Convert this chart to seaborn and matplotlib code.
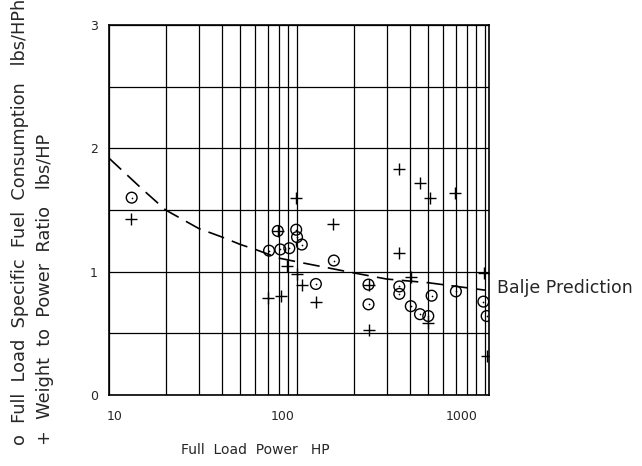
import matplotlib
matplotlib.use("Agg")
import matplotlib.pyplot as plt
import matplotlib.transforms as mtransforms
import seaborn as sns
import pandas as pd
import numpy as np
from matplotlib.ticker import LogLocator, FixedLocator, NullFormatter, MultipleLocator

# Full load specific fuel consumption (circles)
circle_x = [13.2, 79, 99, 100, 106, 71, 81.5, 91, 157, 126, 240, 240, 350, 350, 403, 520, 451, 499, 700, 980, 1020]
circle_y = [1.60, 1.33, 1.34, 1.28, 1.22, 1.17, 1.18, 1.19, 1.09, 0.90, 0.895, 0.735, 0.88, 0.82, 0.72, 0.805, 0.655, 0.64, 0.84, 0.757, 0.64]

# Weight to power ratio (plus)
plus_x = [13.1, 79, 99, 156, 350, 451, 509, 692, 350, 88.7, 99.5, 106, 70.3, 82.2, 126, 240, 404, 990, 240, 495, 1028]
plus_y = [1.425, 1.33, 1.60, 1.39, 1.83, 1.72, 1.595, 1.635, 1.155, 1.046, 0.98, 0.89, 0.785, 0.805, 0.757, 0.895, 0.96, 0.99, 0.527, 0.586, 0.316]

# Balje prediction curve
curve_x = [10, 15, 20, 30, 40, 50, 60, 80, 100, 200, 300, 500, 1000]
curve_y = [1.92, 1.67, 1.50, 1.35, 1.28, 1.22, 1.18, 1.11, 1.08, 0.99, 0.94, 0.91, 0.85]

x_ticks = [10, 100, 1000]
x_tick_labels = ["10", "100", "1000"]
y_ticks = [0, 1, 2, 3]
y_tick_labels = ["0", "1", "2", "3"]

sns.set_style("white")
plt.rcParams["font.family"] = ["DejaVu Sans"]

fig = plt.figure(figsize=(6.42, 4.66), dpi=100)
ax = fig.add_axes([0.1698, 0.1524, 0.5919, 0.794])

circ = pd.DataFrame({"x": circle_x, "y": circle_y})
plus = pd.DataFrame({"x": plus_x, "y": plus_y})
curve = pd.DataFrame({"x": curve_x, "y": curve_y})

ax.set_xscale("log")
ax.set_xlim(10, 1050)
ax.set_ylim(0, 3)

sns.lineplot(data=curve, x="x", y="y", ax=ax, color="black", lw=1.2, zorder=3)
ax.lines[0].set_dashes([10, 5])
sns.scatterplot(data=circ, x="x", y="y", ax=ax, marker="o", s=60,
                facecolors="none", edgecolor="black", linewidth=1.0, zorder=4)
sns.scatterplot(data=circ, x="x", y="y", ax=ax, marker=".", s=6,
                color="black", linewidth=0, zorder=5)
sns.scatterplot(data=plus, x="x", y="y", ax=ax, marker="+", s=80,
                color="black", linewidth=1.0, zorder=4)

# grid
ax.xaxis.set_major_locator(FixedLocator(x_ticks))
ax.xaxis.set_minor_locator(LogLocator(base=10, subs=np.arange(2, 10)))
ax.xaxis.set_minor_formatter(NullFormatter())
ax.set_xticks(x_ticks)
ax.set_xticklabels(x_tick_labels)
ax.set_yticks(y_ticks)
ax.set_yticklabels(y_tick_labels)
ax.yaxis.set_minor_locator(MultipleLocator(0.5))
ax.grid(which="both", color="black", lw=0.9)
ax.set_axisbelow(True)
ax.tick_params(which="both", length=0)
ax.tick_params(axis="x", pad=11, labelsize=9)
ax.tick_params(axis="y", pad=8, labelsize=9)
for s in ax.spines.values():
    s.set_color("black")
    s.set_linewidth(1.2)

# shift x tick labels to where they sit in the reference
offsets = [6, -14, -23]
for lab, dx in zip(ax.get_xticklabels(), offsets):
    lab.set_transform(lab.get_transform() +
                      mtransforms.ScaledTranslation(dx / 100, 0, fig.dpi_scale_trans))

ax.set_xlabel("Full  Load  Power   HP", fontsize=10)
ax.xaxis.set_label_coords(0.384, -0.13)
ax.set_ylabel("")

fig.text(0.031, 0.045, "o  Full  Load  Specific  Fuel  Consumption   lbs/HPh",
         rotation=90, ha="center", va="bottom", fontsize=12.8)
fig.text(0.070, 0.045, "+  Weight  to  Power  Ratio   lbs/HP",
         rotation=90, ha="center", va="bottom", fontsize=12.8)

ax.text(1.02, 0.29, "Balje Prediction", transform=ax.transAxes,
        ha="left", va="center", fontsize=12.5)

fig.savefig("out.png", dpi=100)
